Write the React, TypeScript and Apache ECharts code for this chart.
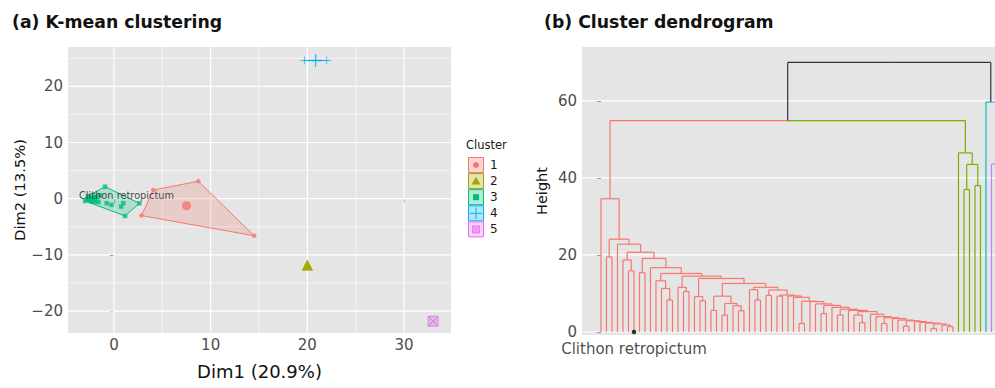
import React, { useEffect, useRef } from 'react';
import * as echarts from 'echarts';

const FONT = '"DejaVu Sans", "Liberation Sans", Arial, sans-serif';

// ---------------- Panel (a): K-mean clustering ----------------
const clusterNames = ['1', '2', '3', '4', '5'];
const clusterColors = ['#F8766D', '#A3A500', '#00BF7D', '#00B0F6', '#E76BF3'];

const cluster1Points = [[4.06, 1.55], [8.73, 3.1], [14.5, -6.6], [2.84, -3.0]];
const cluster2Points = [[20.0, -11.8]];
const cluster3Points = [
  [-2.98, -0.4], [-2.7, 0.45], [-2.6, -0.2], [-2.45, 0.1], [-2.3, -0.5], [-2.15, 0.2],
  [-2.0, -0.3], [-1.8, 0.0], [-1.6, -0.6], [-1.45, 0.6], [-0.92, 2.14], [-0.75, -0.8],
  [-0.25, -1.1], [0.75, -1.4], [0.97, -0.8], [2.63, -0.82], [1.15, -3.08], [-2.75, -0.1],
  [-2.2, -0.15], [-1.9, 0.35],
];
const cluster4Points = [[19.7, 24.6], [22.0, 24.6]];
const cluster5Points = [[33.0, -21.8]];
const clusterPoints = [cluster1Points, cluster2Points, cluster3Points, cluster4Points, cluster5Points];

const centroids = [[7.5, -1.25], [20.0, -11.8], [-2.1, -0.2], [20.85, 24.6], [33.0, -21.8]];

const hull1 = [[2.84, -3.0], [4.06, 1.55], [8.73, 3.1], [14.5, -6.6]];
const hull3 = [[-2.98, -0.4], [-2.7, 0.45], [-0.92, 2.14], [2.63, -0.82], [1.15, -3.08]];
const hull4 = [[19.7, 24.6], [22.0, 24.6]];
const hulls = [
  { cluster: 0, pts: hull1 },
  { cluster: 2, pts: hull3 },
  { cluster: 3, pts: hull4 },
];

const xTicksA = [0, 10, 20, 30];
const yTicksA = [-20, -10, 0, 10, 20];
const xMinorA = [5, 15, 25];
const yMinorA = [-15, -5, 5, 15, 25];
const speciesLabel = 'Clithon retropictum';
const speciesLabelPosA = [1.3, 0.65];

// ---------------- Panel (b): Cluster dendrogram ----------------
type Tree = number | [number, Tree, Tree];
// red cluster: a chain ("spine") of merges, each with a side branch
const redSpineHeights = [
  34.6, 24.1, 22.8, 20.7, 19.1, 16.7, 15.2, 14.5, 13.9, 12.6,
  11.6, 10.9, 9.6, 9.35, 9.0, 8.0, 7.9, 7.3, 6.9, 6.4,
  5.9, 5.6, 5.3, 4.6, 4.0, 3.7, 3.5, 3.1, 2.9, 2.7,
  2.5, 2.3, 2.1, 1.8,
];
const redSpineBranches: Tree[] = [
  0, [19.5, 0, 0], 0, [18.7, 0, [15.9, 0, 0]], [15.4, 0, 0], 0,
  [13.3, 0, [11.3, 0, [8.3, 0, 0]]], [11.6, 0, [10.5, 0, 0]], [9.2, 0, [8.1, 0, 0]],
  [9.3, [5.6, 0, 0], [7.4, [4.4, 0, 0], [6.8, 0, [5.5, 0, 0]]]],
  [11.0, 0, [8.3, 0, 0]], [9.5, 0, 0], [9.3, 0, 0], 0, 0, [2.2, 0, 0], 0, 0, [4.8, 0, 0], 0,
  [4.4, 0, 0], 0, [4.4, 0, [2.4, 0, 0]], 0, 0, [2.2, 0, 0], 0, 0, [1.5, 0, 0], 0,
  0, 0, [0.9, 0, 0], 0,
];
const redTail: Tree = [1.4, 0, 0];
const greenTree: Tree = [46.5, 0, [43.5, [37.0, 0, 0], [38.0, 0, 0]]];
const cyanTree: Tree = 0;
const purpleTree: Tree = [43.6, 0, [30.0, 0, 0]];
const redGreenHeight = 54.9;
const cyanPurpleHeight = 59.7;
const topHeight = 70.0;
const dendroColors = ['#F8766D', '#7CAE00', '#00BFC4', '#C77CFF'];
const dendroTopColor = '#333333';
const labelledLeafIndex = 6;
const yTicksB = [0, 20, 40, 60];

function rgba(hex: string, a: number) {
  const n = parseInt(hex.slice(1), 16);
  return `rgba(${(n >> 16) & 255},${(n >> 8) & 255},${n & 255},${a})`;
}

function buildSpine(heights: number[], branches: Tree[], tail: Tree): Tree {
  let t: Tree = tail;
  for (let i = heights.length - 1; i >= 0; i--) t = [heights[i], branches[i], t];
  return t;
}

function computeSegments() {
  const segs: number[][] = [];
  let leaf = 0;
  const join = (a: any, b: any, h: number, ca: number, cb: number) => {
    const x = (a.x + b.x) / 2;
    segs.push([a.x, h, x, h, ca], [a.x, h, a.x, a.y, ca], [b.x, h, x, h, cb], [b.x, h, b.x, b.y, cb]);
    return { x, y: h };
  };
  const lay = (t: Tree, c: number): { x: number; y: number } => {
    if (typeof t === 'number') return { x: leaf++, y: 0 };
    const a = lay(t[1], c);
    const b = lay(t[2], c);
    return join(a, b, t[0], c, c);
  };
  const red = lay(buildSpine(redSpineHeights, redSpineBranches, redTail), 0);
  const green = lay(greenTree, 1);
  const rg = join(red, green, redGreenHeight, 0, 1);
  const cyan = lay(cyanTree, 2);
  const purple = lay(purpleTree, 3);
  const cp = join(cyan, purple, cyanPurpleHeight, 2, 3);
  join(rg, cp, topHeight, -1, -1);
  return segs;
}

const plusPath = 'path://M4.5,0H5.5V4.5H10V5.5H5.5V10H4.5V5.5H0V4.5H4.5Z';
const crossPath = 'path://M0.8,0L5,4.2L9.2,0L10,0.8L5.8,5L10,9.2L9.2,10L5,5.8L0.8,10L0,9.2L4.2,5L0,0.8Z';
const pointSymbols = ['circle', 'triangle', 'rect', plusPath, 'rect'];
const pointSizes = [4.5, 11, 4.5, 8, 10];
const centroidSizes = [9, 11, 8, 13, 10];

function gridLineSeries(xIdx: number, values: number[], vertical: boolean, width: number, z: number, other: number) {
  return {
    type: 'custom',
    xAxisIndex: xIdx,
    yAxisIndex: xIdx,
    z,
    silent: true,
    data: values.map((v) => (vertical ? [v, other] : [other, v])),
    renderItem: (params: any, api: any) => {
      const cs = params.coordSys;
      const v = values[params.dataIndex];
      if (vertical) {
        const x = api.coord([v, other])[0];
        return { type: 'line', shape: { x1: x, y1: cs.y, x2: x, y2: cs.y + cs.height }, style: { stroke: '#FFFFFF', lineWidth: width } };
      }
      const y = api.coord([other, v])[1];
      return { type: 'line', shape: { x1: cs.x, y1: y, x2: cs.x + cs.width, y2: y }, style: { stroke: '#FFFFFF', lineWidth: width } };
    },
  };
}

function legendGraphic() {
  const children: any[] = [
    { type: 'text', x: 466, y: 145, style: { text: 'Cluster', fontSize: 11.5, fontFamily: FONT, fill: '#1a1a1a', align: 'left', verticalAlign: 'middle' } },
  ];
  clusterNames.forEach((name, k) => {
    const cy = 165 + 16.1 * k;
    const cx = 476;
    const c = clusterColors[k];
    children.push({ type: 'rect', shape: { x: 468.5, y: cy - 7.5, width: 15, height: 15 }, style: { fill: rgba(c, 0.3), stroke: c, lineWidth: 1 } });
    if (k === 0) children.push({ type: 'circle', shape: { cx, cy, r: 3 }, style: { fill: c } });
    if (k === 1) children.push({ type: 'polygon', shape: { points: [[cx, cy - 4], [cx + 4.5, cy + 3.5], [cx - 4.5, cy + 3.5]] }, style: { fill: c } });
    if (k === 2) children.push({ type: 'rect', shape: { x: cx - 3, y: cy - 3, width: 6, height: 6 }, style: { fill: c } });
    if (k === 3) {
      children.push({ type: 'line', shape: { x1: cx - 6, y1: cy, x2: cx + 6, y2: cy }, style: { stroke: c, lineWidth: 1 } });
      children.push({ type: 'line', shape: { x1: cx, y1: cy - 6, x2: cx, y2: cy + 6 }, style: { stroke: c, lineWidth: 1 } });
    }
    if (k === 4) {
      children.push({ type: 'rect', shape: { x: cx - 3.5, y: cy - 3.5, width: 7, height: 7 }, style: { fill: rgba(c, 0.4), stroke: c, lineWidth: 0.8 } });
      children.push({ type: 'line', shape: { x1: cx - 3.5, y1: cy - 3.5, x2: cx + 3.5, y2: cy + 3.5 }, style: { stroke: c, lineWidth: 0.8 } });
      children.push({ type: 'line', shape: { x1: cx + 3.5, y1: cy - 3.5, x2: cx - 3.5, y2: cy + 3.5 }, style: { stroke: c, lineWidth: 0.8 } });
    }
    children.push({ type: 'text', x: 490, y: cy, style: { text: name, fontSize: 12, fontFamily: FONT, fill: '#1a1a1a', align: 'left', verticalAlign: 'middle' } });
  });
  return children;
}

const minusFmt = (v: number) => String(v).replace('-', '\u2212');

function buildOption() {
  const segs = computeSegments();
  const axisLabelStyle = { fontSize: 15, lineHeight: 13, color: '#4D4D4D', fontFamily: FONT, margin: 5 };
  const axisTickStyle = { show: true, length: 4, lineStyle: { color: '#333333', width: 1 } };

  const series: any[] = [
    gridLineSeries(0, xMinorA, true, 0.6, 1, 0),
    gridLineSeries(0, yMinorA, false, 0.6, 1, 0),
    gridLineSeries(0, xTicksA, true, 1.2, 1, 0),
    gridLineSeries(0, yTicksA, false, 1.2, 1, 0),
    gridLineSeries(1, yTicksB, false, 1.2, 1, 0),
    {
      type: 'custom',
      xAxisIndex: 0,
      yAxisIndex: 0,
      z: 2,
      silent: true,
      data: hulls.map((h) => h.pts[0]),
      renderItem: (params: any, api: any) => {
        const h = hulls[params.dataIndex];
        const c = clusterColors[h.cluster];
        const pts = h.pts.map((p) => api.coord(p));
        if (pts.length > 2) {
          return { type: 'polygon', shape: { points: pts }, style: { fill: rgba(c, 0.22), stroke: c, lineWidth: 1 } };
        }
        return { type: 'polyline', shape: { points: pts }, style: { fill: null, stroke: c, lineWidth: 1 } };
      },
    },
  ];

  clusterPoints.forEach((pts, k) => {
    const c = clusterColors[k];
    if (k === 4) {
      series.push({ type: 'scatter', xAxisIndex: 0, yAxisIndex: 0, z: 3, silent: true, data: pts, symbol: 'rect', symbolSize: pointSizes[k], itemStyle: { color: rgba(c, 0.45), borderColor: '#C77ED0', borderWidth: 1 } });
      series.push({ type: 'scatter', xAxisIndex: 0, yAxisIndex: 0, z: 4, silent: true, data: pts, symbol: crossPath, symbolSize: pointSizes[k] - 1, itemStyle: { color: '#C77ED0' } });
      return;
    }
    series.push({ type: 'scatter', xAxisIndex: 0, yAxisIndex: 0, z: 3, silent: true, data: pts, symbol: pointSymbols[k], symbolSize: pointSizes[k], itemStyle: { color: c } });
    series.push({ type: 'scatter', xAxisIndex: 0, yAxisIndex: 0, z: 3, silent: true, data: [centroids[k]], symbol: pointSymbols[k], symbolSize: centroidSizes[k], itemStyle: { color: c } });
  });

  series.push({
    type: 'scatter', xAxisIndex: 0, yAxisIndex: 0, z: 5, silent: true,
    data: [speciesLabelPosA], symbolSize: 0,
    label: { show: true, position: 'inside', formatter: speciesLabel, fontSize: 9.8, color: '#222222', fontFamily: FONT },
  });

  series.push({
    type: 'custom',
    xAxisIndex: 1,
    yAxisIndex: 1,
    z: 2,
    clip: true,
    silent: true,
    data: segs,
    encode: { x: [0, 2], y: [1, 3] },
    renderItem: (params: any, api: any) => {
      const s = segs[params.dataIndex];
      const p1 = api.coord([s[0], s[1]]);
      const p2 = api.coord([s[2], s[3]]);
      return {
        type: 'line',
        shape: { x1: p1[0], y1: p1[1], x2: p2[0], y2: p2[1] },
        style: { stroke: s[4] < 0 ? dendroTopColor : dendroColors[s[4]], lineWidth: 1.2 },
      };
    },
  });

  series.push({
    type: 'scatter', xAxisIndex: 1, yAxisIndex: 1, z: 5, silent: true,
    data: [[labelledLeafIndex, 0]], symbol: 'circle', symbolSize: 4.5, itemStyle: { color: '#000000' },
    label: { show: true, position: 'bottom', distance: 7, lineHeight: 15, formatter: speciesLabel, fontSize: 15, color: '#1a1a1a', fontFamily: FONT },
  });

  return {
    animation: false,
    textStyle: { fontFamily: FONT },
    title: [
      { text: '(a) K-mean clustering', left: 7, top: 8, textStyle: { fontSize: 17.3, fontWeight: 'bold', color: '#111111', fontFamily: FONT } },
      { text: '(b) Cluster dendrogram', left: 539, top: 8, textStyle: { fontSize: 17.3, fontWeight: 'bold', color: '#111111', fontFamily: FONT } },
    ],
    grid: [
      { left: 68, top: 47, width: 383, height: 286, show: true, backgroundColor: '#E5E5E5', borderWidth: 0 },
      { left: 582, top: 47, width: 413, height: 288, show: true, backgroundColor: '#E5E5E5', borderWidth: 0 },
    ],
    xAxis: [
      {
        type: 'value', gridIndex: 0, min: -4.75, max: 34.85,
        axisLine: { show: false },
        axisTick: { ...axisTickStyle, customValues: xTicksA },
        axisLabel: { ...axisLabelStyle, customValues: xTicksA, formatter: minusFmt },
        splitLine: { show: false },
        name: 'Dim1 (20.9%)', nameLocation: 'middle', nameGap: 29,
        nameTextStyle: { fontSize: 18, color: '#111111', fontFamily: FONT },
      },
      { type: 'value', gridIndex: 1, min: -3.45, max: 71.64, show: false, splitLine: { show: false } },
    ],
    yAxis: [
      {
        type: 'value', gridIndex: 0, min: -23.9, max: 27.0,
        axisLine: { show: false },
        axisTick: { ...axisTickStyle, customValues: yTicksA },
        axisLabel: { ...axisLabelStyle, customValues: yTicksA, formatter: minusFmt },
        splitLine: { show: false },
        name: 'Dim2 (13.5%)', nameLocation: 'middle', nameGap: 38, nameRotate: 90,
        nameTextStyle: { fontSize: 14.7, color: '#111111', fontFamily: FONT },
      },
      {
        type: 'value', gridIndex: 1, min: -0.78, max: 74.0,
        axisLine: { show: false },
        axisTick: { ...axisTickStyle, customValues: yTicksB },
        axisLabel: { ...axisLabelStyle, customValues: yTicksB },
        splitLine: { show: false },
        name: 'Height', nameLocation: 'middle', nameGap: 33, nameRotate: 90,
        nameTextStyle: { fontSize: 14.5, color: '#111111', fontFamily: FONT },
      },
    ],
    graphic: legendGraphic(),
    series,
  };
}

export default function App() {
  const ref = useRef<HTMLDivElement>(null);
  useEffect(() => {
    if (!ref.current) return;
    const chart = echarts.init(ref.current, null, { renderer: 'svg' });
    chart.setOption(buildOption() as any);
    return () => chart.dispose();
  }, []);
  return <div ref={ref} style={{ position: 'absolute', left: 0, top: 0, width: 995, height: 388, background: '#ffffff' }} />;
}
